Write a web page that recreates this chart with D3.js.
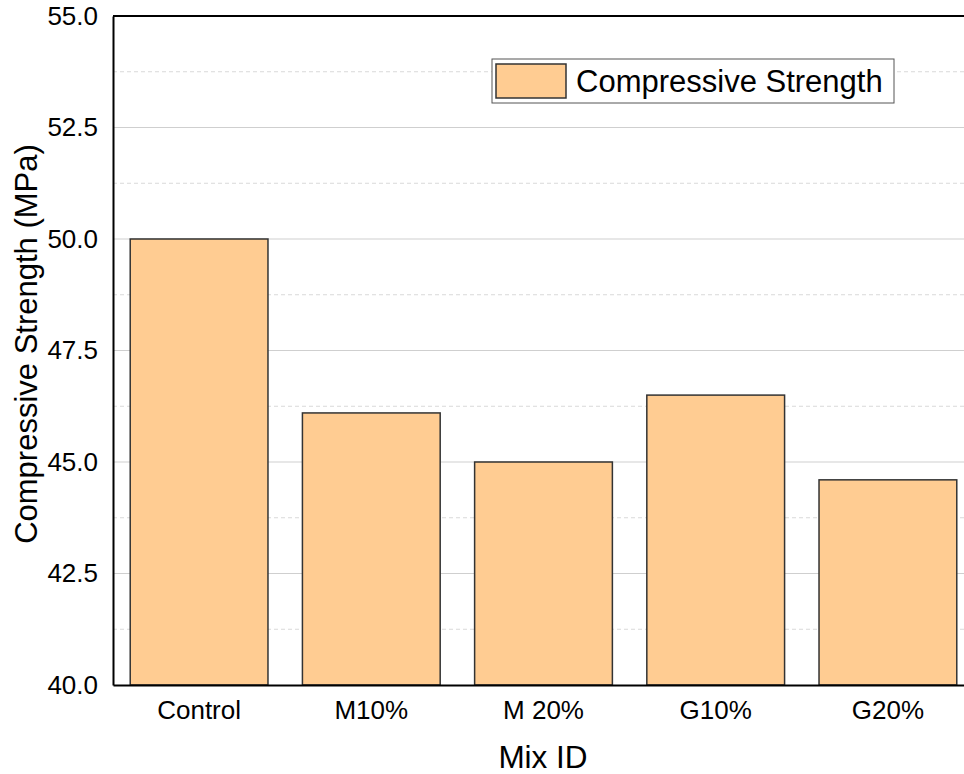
<!DOCTYPE html>
<html><head><meta charset="utf-8">
<script src="https://cdn.jsdelivr.net/npm/d3@7"></script>
<style>body{margin:0;background:#fff}svg{display:block}text{font-family:"Liberation Sans",Arial,sans-serif}</style>
</head><body>
<script>
const categories = ["Control","M10%","M 20%","G10%","G20%"];
const strength = [50.0, 46.1, 45.0, 46.5, 44.6];
const majorTicks = [40.0, 42.5, 45.0, 47.5, 50.0, 52.5, 55.0];
const minorTicks = [41.25, 43.75, 46.25, 48.75, 51.25, 53.75];
const seriesName = "Compressive Strength";

const W = 964, H = 774;
const m = {l:113, t:16, r:-10, b:89};
const svg = d3.select("body").append("svg").attr("width",W).attr("height",H);
const x = d3.scaleBand().domain(categories).range([m.l, W - m.r]).paddingInner(0.2).paddingOuter(0.1);
const y = d3.scaleLinear().domain([40,55]).range([H - m.b, m.t]);

// grid
svg.append("g").selectAll("line").data(minorTicks).join("line")
  .attr("x1", m.l).attr("x2", W - m.r).attr("y1", d=>y(d)).attr("y2", d=>y(d))
  .attr("stroke","#d9d9d9").attr("stroke-width",1).attr("stroke-dasharray","4,3");
svg.append("g").selectAll("line").data(majorTicks.slice(1,-1)).join("line")
  .attr("x1", m.l).attr("x2", W - m.r).attr("y1", d=>y(d)).attr("y2", d=>y(d))
  .attr("stroke","#cfcfcf").attr("stroke-width",1.2);

// bars
svg.append("g").selectAll("rect").data(categories).join("rect")
  .attr("x", d=>x(d)).attr("width", x.bandwidth())
  .attr("y", (d,i)=>y(strength[i])).attr("height", (d,i)=>y(40)-y(strength[i]))
  .attr("fill","#FFCC92").attr("stroke","#333").attr("stroke-width",1.5);

// axes
const ya = svg.append("g").attr("transform",`translate(${m.l},0)`)
  .call(d3.axisLeft(y).tickValues(majorTicks).tickFormat(d3.format(".1f")).tickSize(0).tickPadding(15));
ya.select(".domain").attr("stroke","#000").attr("stroke-width",2);
ya.selectAll("text").attr("font-size",26).attr("fill","#000").attr("font-family",'"Liberation Sans",Arial,sans-serif');

const xa = svg.append("g").attr("transform",`translate(0,${y(40)})`)
  .call(d3.axisBottom(x).tickSize(0).tickPadding(16));
xa.select(".domain").attr("stroke","#000").attr("stroke-width",2);
xa.selectAll("text").attr("font-size",26).attr("fill","#000").attr("font-family",'"Liberation Sans",Arial,sans-serif');

// top border
svg.append("line").attr("x1",m.l).attr("x2",W).attr("y1",y(55)).attr("y2",y(55)).attr("stroke","#000").attr("stroke-width",2);

// titles
svg.append("text").attr("x", 543).attr("y", 768).attr("text-anchor","middle").attr("font-size",31.5).text("Mix ID");
svg.append("text").attr("transform",`translate(37,344) rotate(-90)`).attr("text-anchor","middle").attr("font-size",31).text("Compressive Strength (MPa)");

// legend
const lg = svg.append("g");
lg.append("rect").attr("x",492).attr("y",59).attr("width",402).attr("height",44).attr("fill","#fff").attr("stroke","#555").attr("stroke-width",1);
lg.append("rect").attr("x",496).attr("y",64).attr("width",70).attr("height",34).attr("fill","#FFCC92").attr("stroke","#333").attr("stroke-width",1.5);
lg.append("text").attr("x",576).attr("y",92).attr("font-size",31).text(seriesName);
</script>
</body></html>
